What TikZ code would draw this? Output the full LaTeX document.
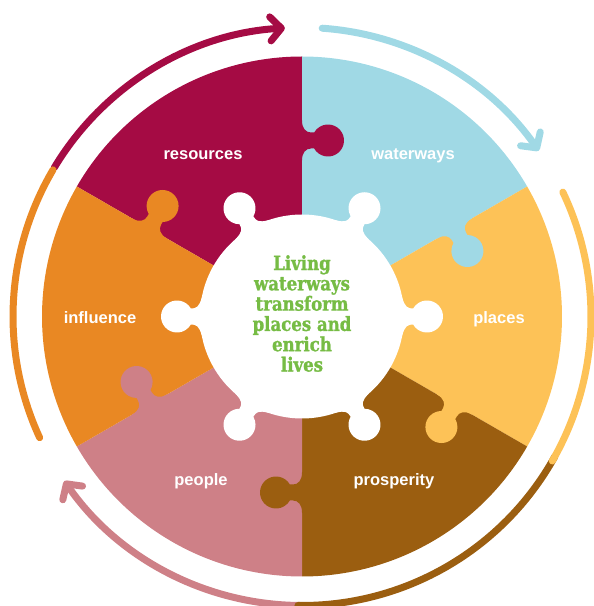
\documentclass[tikz,border=0pt]{standalone}
\usepackage{fontspec}
\setmainfont{Liberation Sans}
\newfontfamily\slabfont[FakeStretch=0.85,FakeBold=1.2]{DejaVu Serif}
\usetikzlibrary{arrows.meta}
\definecolor{cres}{HTML}{A50B44}
\definecolor{cwat}{HTML}{A0D9E5}
\definecolor{cpla}{HTML}{FDC257}
\definecolor{cpro}{HTML}{9B5E10}
\definecolor{cpeo}{HTML}{CE8087}
\definecolor{cinf}{HTML}{E98823}
\definecolor{cgreen}{HTML}{76BC44}
\tikzset{
  lab/.style={anchor=base, text=white, inner sep=0pt, font=\bfseries\fontsize{16.5}{18}\selectfont},
  ring/.style={line width=7pt, line cap=round},
  chev/.style={-{Straight Barb[round,length=11pt,width=24pt]}},
  motto/.style={align=center, text=cgreen, inner sep=0pt, font=\slabfont\bfseries\fontsize{19.5}{20.3}\selectfont}
}
\begin{document}
\begin{tikzpicture}[x=1pt,y=1pt]
\useasboundingbox (0,0) rectangle (594,606);
\coordinate (C) at (302,289.5);
\begin{scope}[shift={(C)}]
  % sectors
  \fill[cres] (0,0) -- (150:260) arc[start angle=150,end angle=90,radius=260] -- cycle;
  \fill[cwat] (0,0) -- (90:260) arc[start angle=90,end angle=30,radius=260] -- cycle;
  \fill[cpla] (0,0) -- (30:260) arc[start angle=30,end angle=-30,radius=260] -- cycle;
  \fill[cpro] (0,0) -- (-30:260) arc[start angle=-30,end angle=-90,radius=260] -- cycle;
  \fill[cpeo] (0,0) -- (-90:260) arc[start angle=-90,end angle=-150,radius=260] -- cycle;
  \fill[cinf] (0,0) -- (-150:260) arc[start angle=210,end angle=150,radius=260] -- cycle;
  % puzzle tabs on the sector boundaries
  \foreach \a/\c in {90/cres,30/cwat,-30/cpla,-90/cpro,210/cpeo,150/cinf}{
    \fill[\c, rotate=\a, yscale=-1] (154,-2) -- (156,0) .. controls (164,0) and (168,4) .. (168,9)
      -- (168,12.14) arc[start angle=-120,end angle=-420,radius=16]
      -- (184,9) .. controls (184,4) and (188,0) .. (196,0) -- (198,-2) -- cycle;
  }
  % white centre with knobs
  \fill[white] (0,0) circle[radius=102];
  \foreach \a in {0,60,...,300}{
    \fill[white, rotate=\a] (90,-19) -- (100.2,-19) .. controls (103,-9) and (106,-8) .. (111.14,-8)
      arc[start angle=-150,end angle=150,radius=16]
      .. controls (106,8) and (103,9) .. (100.2,19) -- (90,19) -- cycle;
  }
  % outer ring of arrows
  \draw[ring, cpeo, chev] (-90.5:289) arc[start angle=-90.5,end angle=-145.3,radius=289];
  \draw[ring, cpro] (-29:289) arc[start angle=-29,end angle=-90.8,radius=289];
  \draw[ring, cpla] (25.5:289) arc[start angle=25.5,end angle=-30,radius=289];
  \draw[ring, cwat, chev] (86:289) arc[start angle=86,end angle=35,radius=289];
  \draw[ring, cres, chev] (149:289) arc[start angle=149,end angle=93.4,radius=289];
  \draw[ring, cinf] (204.8:289) arc[start angle=204.8,end angle=149.5,radius=289];
\end{scope}
% labels
\node[lab] (resources) at (203,446) {resources};
\node[lab] (waterways) at (413,446) {waterways};
\node[lab] (influence) at (100,282) {influence};
\node[lab] (places) at (499,282) {places};
\node[lab] (people) at (201,120) {people};
\node[lab] (prosperity) at (394,120) {prosperity};
\node[motto] (centre) at (302,292.5) {Living\\waterways\\transform\\places and\\enrich\\lives};
\end{tikzpicture}
\end{document}
